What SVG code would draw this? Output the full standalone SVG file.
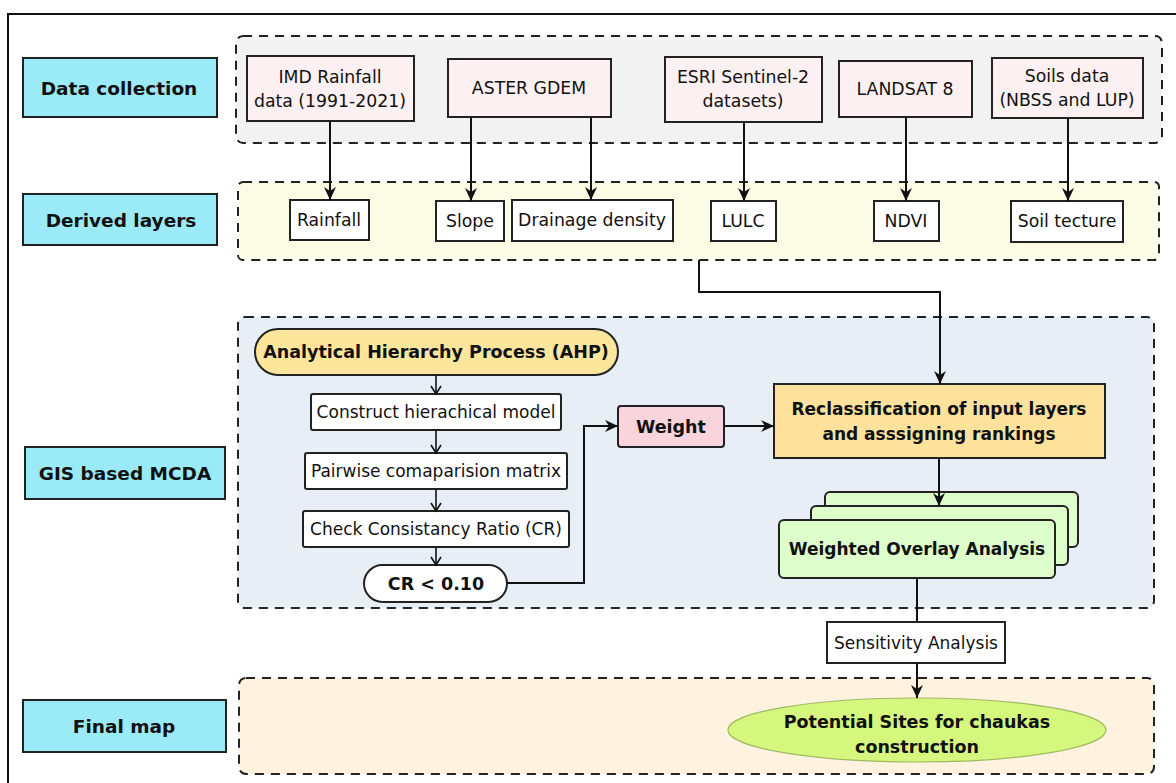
<svg xmlns="http://www.w3.org/2000/svg" width="1176" height="783" viewBox="0 0 1176 783">
<defs>
<style>
.lbl{fill:#9BEAF7;stroke:#222;stroke-width:2}
.cont{stroke:#222;stroke-width:2;stroke-dasharray:9,7}
.data{fill:#FDF0F2;stroke:#222;stroke-width:2}
.der{fill:#fff;stroke:#222;stroke-width:2}
.box{fill:#fff;stroke:#222;stroke-width:2}
.t{font-family:"DejaVu Sans",sans-serif;font-size:17.3px;fill:#111;text-anchor:middle;dominant-baseline:central}
.b{font-family:"DejaVu Sans",sans-serif;font-size:17px;font-weight:bold;fill:#111;text-anchor:middle;dominant-baseline:central}
.lt{font-size:18.5px}
.c{fill:none;stroke:#111;stroke-width:2}
.s{fill:none;stroke:#111;stroke-width:1.6}
</style>
<marker id="ar" markerUnits="userSpaceOnUse" markerWidth="14" markerHeight="14" viewBox="0 0 14 14" refX="13" refY="7" orient="auto">
<path d="M0,1 L13,7 L0,13 L4,7 z" fill="#111"/>
</marker>
<marker id="ch" markerUnits="userSpaceOnUse" markerWidth="12" markerHeight="12" viewBox="0 0 12 12" refX="10" refY="6" orient="auto">
<path d="M2,1 L10,6 L2,11" fill="none" stroke="#111" stroke-width="1.6"/>
</marker>
</defs>
<rect x="0" y="0" width="1176" height="783" fill="#fff"/>
<rect x="8" y="14" width="1190" height="800" fill="none" stroke="#111" stroke-width="2"/>

<g id="containers">
<rect id="c-data" class="cont" x="236" y="36" width="926" height="107" rx="7" fill="#F2F2F2"/>
<rect id="c-derived" class="cont" x="238" y="182" width="921" height="78" rx="5" fill="#FCFCE6"/>
<rect id="c-gis" class="cont" x="238" y="317" width="916" height="291" rx="7" fill="#E8EEF6"/>
<rect id="c-final" class="cont" x="239" y="678" width="915" height="96" rx="7" fill="#FFF2DF"/>
</g>

<g id="label-data"><rect class="lbl" x="23" y="58" width="194" height="59"/><text class="b lt" x="119" y="88">Data collection</text></g>
<g id="label-derived"><rect class="lbl" x="23" y="194" width="194" height="51"/><text class="b lt" x="121" y="220">Derived layers</text></g>
<g id="label-gis"><rect class="lbl" x="25" y="447" width="200" height="52"/><text class="b lt" x="125" y="473">GIS based MCDA</text></g>
<g id="label-final"><rect class="lbl" x="23" y="700" width="203" height="52"/><text class="b lt" x="124" y="726">Final map</text></g>

<g id="n-imd"><rect class="data" x="247" y="56" width="167" height="65"/><text class="t" x="330" y="77">IMD Rainfall</text><text class="t" x="330" y="101">data (1991-2021)</text></g>
<g id="n-aster"><rect class="data" x="448" y="59" width="163" height="58"/><text class="t" x="529" y="88">ASTER GDEM</text></g>
<g id="n-esri"><rect class="data" x="665" y="57" width="157" height="65"/><text class="t" x="743" y="77">ESRI Sentinel-2</text><text class="t" x="743" y="101">datasets)</text></g>
<g id="n-landsat"><rect class="data" x="839" y="61" width="133" height="56"/><text class="t" x="905" y="89">LANDSAT 8</text></g>
<g id="n-soils"><rect class="data" x="992" y="58" width="151" height="60"/><text class="t" x="1067" y="76">Soils data</text><text class="t" x="1067" y="100">(NBSS and LUP)</text></g>

<g id="n-rainfall"><rect class="der" x="290" y="200" width="79" height="40"/><text class="t" x="329" y="220">Rainfall</text></g>
<g id="n-slope"><rect class="der" x="436" y="201" width="68" height="40"/><text class="t" x="470" y="221">Slope</text></g>
<g id="n-drainage"><rect class="der" x="512" y="200" width="161" height="41"/><text class="t" x="592" y="220">Drainage density</text></g>
<g id="n-lulc"><rect class="der" x="711" y="201" width="65" height="40"/><text class="t" x="743" y="221">LULC</text></g>
<g id="n-ndvi"><rect class="der" x="874" y="201" width="65" height="40"/><text class="t" x="906" y="221">NDVI</text></g>
<g id="n-soil"><rect class="der" x="1011" y="201" width="112" height="41"/><text class="t" x="1067" y="221">Soil tecture</text></g>

<g id="n-ahp"><rect x="255" y="329" width="363" height="46" rx="23" fill="#FDE59B" stroke="#222" stroke-width="2"/><text class="b" x="436" y="352" style="font-size:17.5px">Analytical Hierarchy Process (AHP)</text></g>
<g id="n-construct"><rect class="box" x="311" y="394" width="250" height="36" rx="2"/><text class="t" x="436" y="412" style="font-size:17px">Construct hierachical model</text></g>
<g id="n-pairwise"><rect class="box" x="305" y="453" width="262" height="36" rx="2"/><text class="t" x="436" y="471" style="font-size:17px">Pairwise comaparision matrix</text></g>
<g id="n-check"><rect class="box" x="303" y="511" width="266" height="36" rx="2"/><text class="t" x="436" y="529" style="font-size:17px">Check Consistancy Ratio (CR)</text></g>
<g id="n-cr"><rect class="box" x="364" y="565" width="143" height="37" rx="18.5"/><text class="b" x="436" y="584" style="font-size:17.5px">CR &lt; 0.10</text></g>

<g id="n-weight"><rect x="618" y="406" width="106" height="41" rx="3" fill="#F9D4DC" stroke="#222" stroke-width="2"/><text class="b" x="671" y="427" style="font-size:17.5px">Weight</text></g>
<g id="n-reclass"><rect x="774" y="384" width="331" height="74" fill="#FEE29C" stroke="#222" stroke-width="2"/><text class="b" x="939" y="409">Reclassification of input layers</text><text class="b" x="939" y="434">and asssigning rankings</text></g>
<g id="n-woa">
<rect x="825" y="492" width="253" height="55" rx="5" fill="#DDFDCB" stroke="#222" stroke-width="2"/>
<rect x="811" y="506" width="257" height="59" rx="5" fill="#DDFDCB" stroke="#222" stroke-width="2"/>
<rect x="779" y="520" width="276" height="58" rx="5" fill="#DDFDCB" stroke="#222" stroke-width="2"/>
<text class="b" x="917" y="549">Weighted Overlay Analysis</text>
</g>
<g id="n-sens"><rect class="box" x="827" y="622" width="178" height="41"/><text class="t" x="916" y="643" style="font-size:17px">Sensitivity Analysis</text></g>
<g id="n-final"><ellipse cx="917" cy="730" rx="189" ry="32" fill="#D5F77E" stroke="#9DBB62" stroke-width="1.2"/><text class="b" x="917" y="722" style="font-size:17.5px">Potential Sites for chaukas</text><text class="b" x="917" y="747" style="font-size:17.5px">construction</text></g>

<g id="connectors">
<path class="c" d="M330,121 V200" marker-end="url(#ar)"/>
<path class="c" d="M471,117 V201" marker-end="url(#ar)"/>
<path class="c" d="M591,117 V200" marker-end="url(#ar)"/>
<path class="c" d="M744,122 V201" marker-end="url(#ar)"/>
<path class="c" d="M906,117 V201" marker-end="url(#ar)"/>
<path class="c" d="M1068,118 V201" marker-end="url(#ar)"/>
<path class="c" d="M699,260 V292 H940 V384" marker-end="url(#ar)"/>
<path class="s" d="M436,375 V394" marker-end="url(#ch)"/>
<path class="s" d="M436,430 V453" marker-end="url(#ch)"/>
<path class="s" d="M436,489 V511" marker-end="url(#ch)"/>
<path class="s" d="M436,547 V565" marker-end="url(#ch)"/>
<path class="c" d="M507,583 H584 V426 H618" marker-end="url(#ar)"/>
<path class="c" d="M724,426 H774" marker-end="url(#ar)"/>
<path class="c" d="M939,458 V506" marker-end="url(#ar)"/>
<path class="c" d="M917,578 V622"/>
<path class="c" d="M917,663 V698" marker-end="url(#ar)"/>
</g>
</svg>
